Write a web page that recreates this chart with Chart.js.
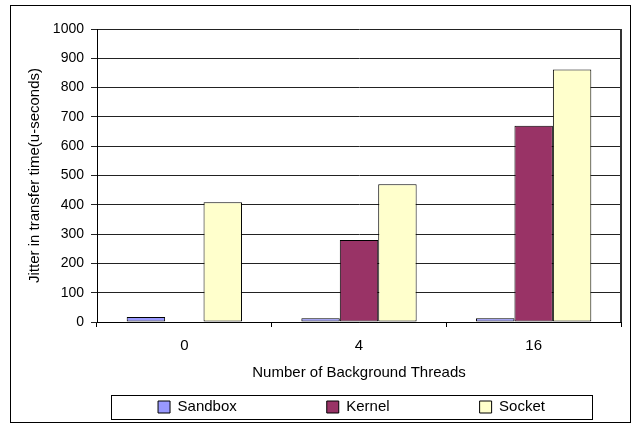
<!DOCTYPE html>
<html>
<head>
<meta charset="utf-8">
<script src="https://cdn.jsdelivr.net/npm/chart.js@4/dist/chart.umd.min.js"></script>
<style>
  body { margin: 0; background: #fff; }
  canvas { display: block; }
</style>
</head>
<body>
<canvas id="jitterChart" width="632" height="423"></canvas>
<script>
// data
const categories = ['0', '4', '16'];
const sandboxJitter = [17, 13, 13];
const kernelJitter = [2, 280, 670];
const socketJitter = [409, 470, 862];

const FONT = "'Liberation Sans', Arial, sans-serif";
const legendFrame = { left: 111, top: 395, right: 592, bottom: 419 }; // box around the legend
const LEGEND_FONT = 15;

// outer frame, right edge of plot, legend frame
const framePlugin = {
  id: 'frames',
  afterLayout: (chart) => {
    // move the legend items into the framed box under the axis title
    const lg = chart.legend;
    const pad = lg.options.labels.padding;
    const midX = (legendFrame.left + legendFrame.right) / 2;
    const dx = midX - (lg.left + lg.right) / 2;
    lg.left += dx;
    lg.right += dx;
    const midY = (legendFrame.top + legendFrame.bottom) / 2;
    lg.top = midY - pad - LEGEND_FONT / 2;
    lg.bottom = chart.height; // legend clips to its own box
  },
  afterDraw: (chart) => {
    const { ctx, chartArea: { top, right, bottom } } = chart;
    ctx.save();
    ctx.strokeStyle = '#000';
    ctx.lineWidth = 1;
    ctx.strokeRect(10.5, 5.5, 620, 417);
    ctx.strokeRect(legendFrame.left + 0.5, legendFrame.top + 0.5,
      legendFrame.right - legendFrame.left, legendFrame.bottom - legendFrame.top);
    ctx.strokeStyle = '#333';
    ctx.lineWidth = 2;
    ctx.beginPath();
    ctx.moveTo(right, top);
    ctx.lineTo(right, bottom);
    ctx.stroke();
    ctx.restore();
  }
};

const ctx = document.getElementById('jitterChart').getContext('2d');

new Chart(ctx, {
  type: 'bar',
  data: {
    labels: categories,
    datasets: [
      {
        label: 'Sandbox',
        data: sandboxJitter,
        backgroundColor: '#9999FF',
        borderColor: '#000',
        borderWidth: 1
      },
      {
        label: 'Kernel',
        data: kernelJitter,
        backgroundColor: '#993366',
        borderColor: '#000',
        borderWidth: 1
      },
      {
        label: 'Socket',
        data: socketJitter,
        backgroundColor: '#FFFFCC',
        borderColor: '#000',
        borderWidth: 1
      }
    ]
  },
  options: {
    responsive: false,
    devicePixelRatio: 1,
    animation: false,
    layout: {
      padding: { top: 29, right: 11, bottom: 11, left: 0 }
    },
    datasets: {
      bar: {
        categoryPercentage: 0.66,
        barPercentage: 1,
        borderSkipped: false
      }
    },
    scales: {
      x: {
        afterFit: (scale) => { scale.height = 60; },
        grid: {
          offset: true,
          drawOnChartArea: false,
          tickLength: 5,
          color: '#000'
        },
        border: { color: '#000', width: 1 },
        ticks: {
          color: '#000',
          padding: 10,
          font: { family: FONT, size: 15 }
        },
        title: {
          display: true,
          text: 'Number of Background Threads',
          color: '#000',
          padding: 0,
          font: { family: FONT, size: 15 }
        }
      },
      y: {
        min: 0,
        max: 1000,
        afterFit: (scale) => { scale.width = 97; },
        grid: {
          color: '#222',
          tickLength: 6
        },
        border: { color: '#000', width: 1 },
        ticks: {
          stepSize: 100,
          color: '#000',
          padding: 7,
          font: { family: FONT, size: 14 },
          callback: (value) => String(value)
        },
        title: {
          display: true,
          text: 'Jitter in transfer time(u-seconds)',
          color: '#000',
          padding: { top: 26, bottom: 0 },
          font: { family: FONT, size: 15 }
        }
      }
    },
    plugins: {
      legend: {
        display: true,
        position: 'bottom',
        maxHeight: 30,
        labels: {
          color: '#000',
          boxWidth: 12,
          boxHeight: 12,
          padding: 90,
          font: { family: FONT, size: LEGEND_FONT }
        }
      },
      tooltip: { enabled: false }
    }
  },
  plugins: [framePlugin]
});
</script>
</body>
</html>
